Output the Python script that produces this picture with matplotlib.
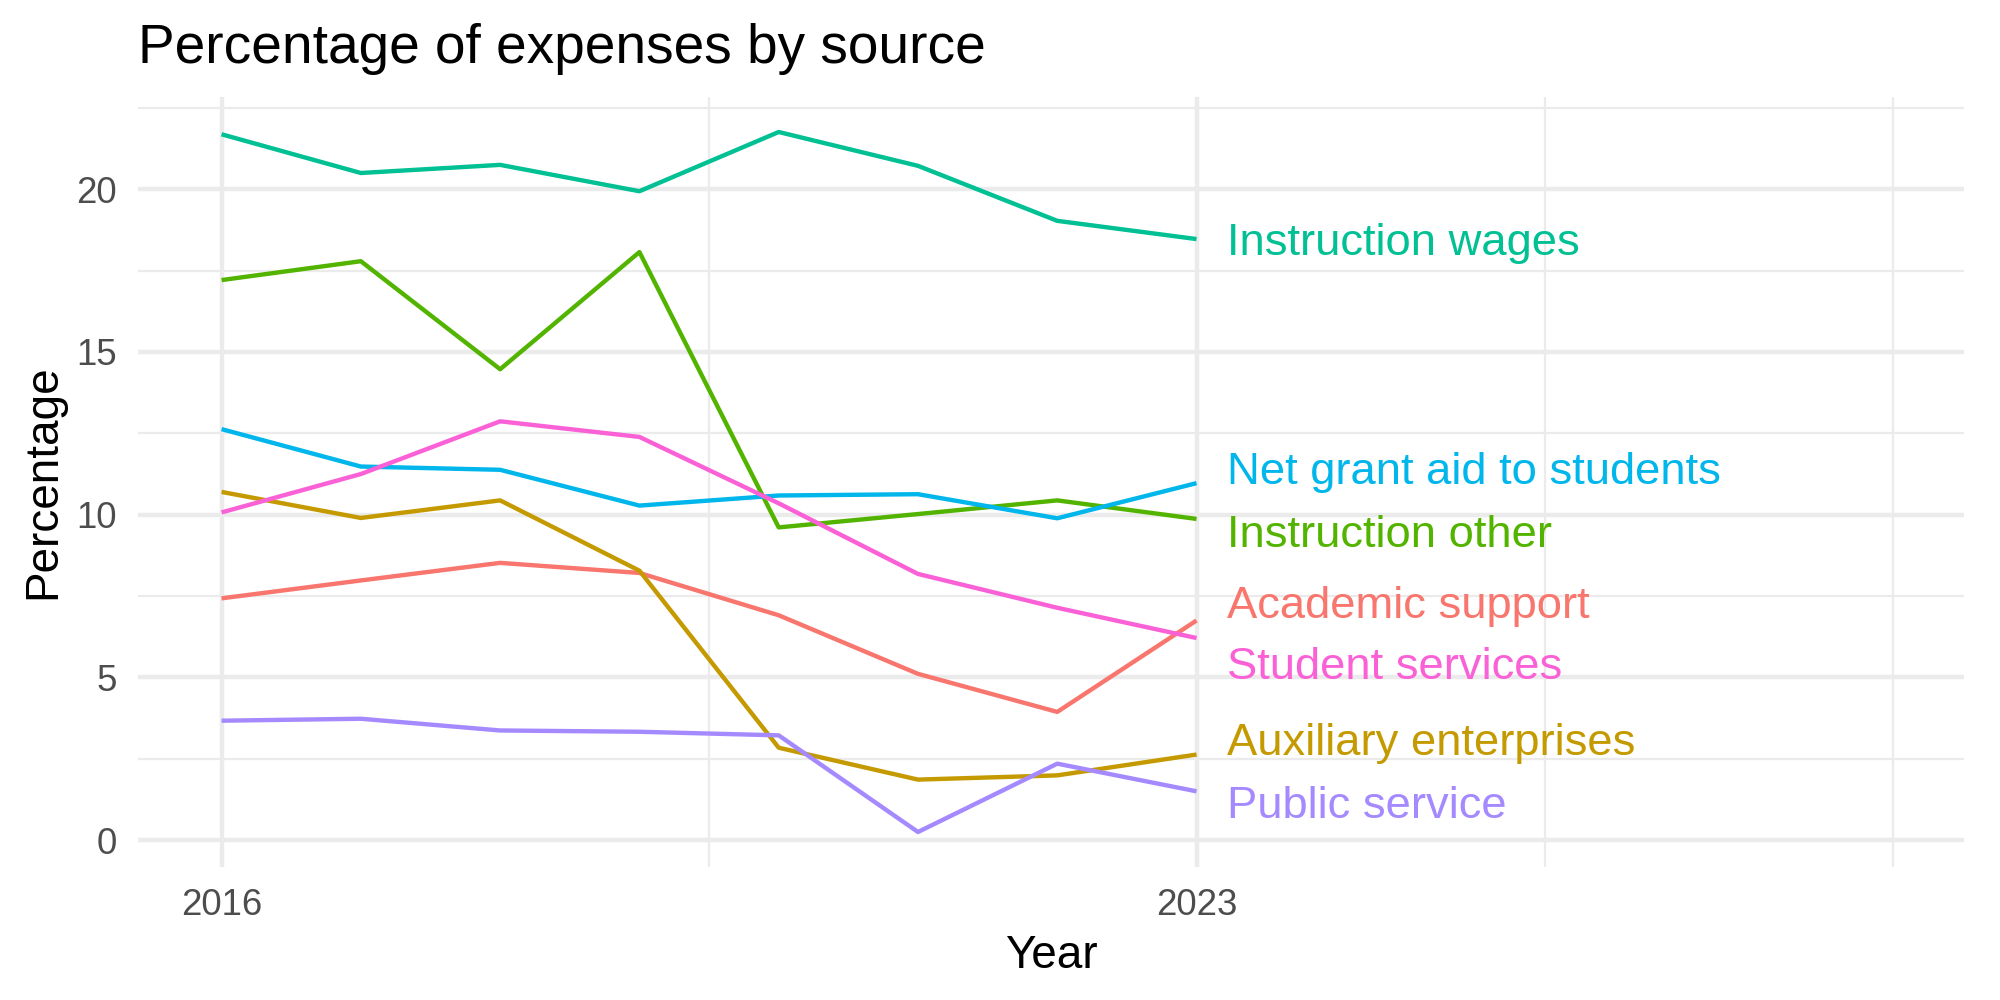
import numpy as np
import matplotlib
matplotlib.use("Agg")
import matplotlib.pyplot as plt

plt.rcParams["font.family"] = ["Liberation Sans", "DejaVu Sans"]

# percentage of expenses by source
years = [2016, 2017, 2018, 2019, 2020, 2021, 2022, 2023]
academic_support = [7.43, 7.98, 8.52, 8.21, 6.91, 5.11, 3.94, 6.75]
auxiliary_enterprises = [10.70, 9.90, 10.44, 8.28, 2.84, 1.86, 1.99, 2.63]
instruction_other = [17.21, 17.79, 14.47, 18.07, 9.61, 10.02, 10.44, 9.87]
instruction_wages = [21.69, 20.50, 20.75, 19.94, 21.76, 20.72, 19.03, 18.47]
net_grant_aid = [12.63, 11.48, 11.38, 10.28, 10.59, 10.63, 9.89, 10.97]
public_service = [3.67, 3.73, 3.37, 3.33, 3.22, 0.25, 2.35, 1.50]
student_services = [10.07, 11.25, 12.87, 12.39, 10.35, 8.18, 7.14, 6.21]

sources = ["Academic support", "Auxiliary enterprises", "Instruction other",
           "Instruction wages", "Net grant aid to students", "Public service",
           "Student services"]
series = [academic_support, auxiliary_enterprises, instruction_other,
          instruction_wages, net_grant_aid, public_service, student_services]
colors = ["#F8766D", "#C49A00", "#53B400", "#00C094", "#00B6EB", "#A58AFF", "#FB61D7"]
# where the (repelled) end labels sit
label_y = [6.83, 2.63, 9.01, 17.98, 10.95, 0.69, 4.96]

x_breaks = [2016, 2023]
x_minor = [2019.5, 2025.5, 2028]
y_breaks = [0, 5, 10, 15, 20]
y_minor = [2.5, 7.5, 12.5, 17.5, 22.5]

fig = plt.figure(figsize=(20 / 3, 10 / 3), dpi=300)
ax = fig.add_axes([0.069, 0.133, 0.913, 0.770])

for name, vals, col, ly in zip(sources, series, colors, label_y):
    ax.plot(years, vals, color=col, linewidth=1.05, solid_capstyle="butt", zorder=3)
    ax.text(years[-1] + 0.22, ly, name, color=col, fontsize=10.9,
            ha="left", va="baseline", zorder=4)

allv = np.concatenate([np.array(s) for s in series])
lo, hi = allv.min(), allv.max()
pad = (hi - lo) * 0.05
ax.set_ylim(lo - pad, hi + pad)
ax.set_xlim(2015.40, 2028.51)

ax.set_xticks(x_breaks)
ax.set_xticks(x_minor, minor=True)
ax.set_yticks(y_breaks)
ax.set_yticks(y_minor, minor=True)
ax.grid(which="major", color="#EBEBEB", linewidth=1.07, zorder=0)
ax.grid(which="minor", color="#EBEBEB", linewidth=0.53, zorder=0)
ax.set_axisbelow(True)
for s in ax.spines.values():
    s.set_visible(False)
ax.tick_params(which="both", length=0)
ax.tick_params(axis="x", pad=5.0, labelsize=8.8, labelcolor="#4D4D4D")
ax.tick_params(axis="y", pad=5.0, labelsize=8.8, labelcolor="#4D4D4D")

ax.set_xlabel("Year", fontsize=11, labelpad=2.75)
ax.set_ylabel("Percentage", fontsize=11, labelpad=2.75)

fig.text(0.069, 1 - 0.0627, "Percentage of expenses by source", fontsize=13.2,
         ha="left", va="baseline")

fig.savefig("out.png", dpi=300, facecolor="white")
